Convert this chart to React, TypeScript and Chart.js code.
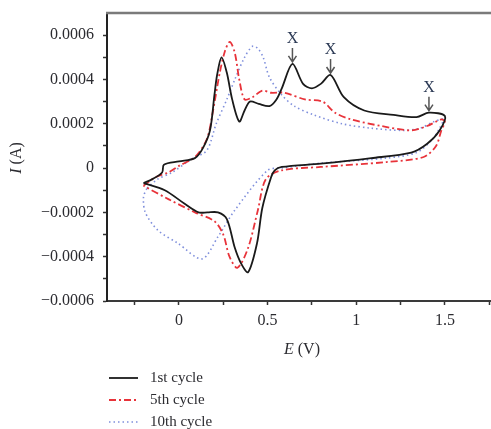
import React, { useEffect, useRef } from 'react';
import { Chart, registerables } from 'chart.js';

Chart.register(...registerables);

// ---- Data (E in V, I in A) ----
const seriesLabels = ['1st cycle', '5th cycle', '10th cycle'];

const cycle1E = [-0.2, -0.15, -0.095, -0.085, 0.0, 0.09, 0.135, 0.175, 0.2, 0.215, 0.24, 0.27, 0.3, 0.34, 0.37, 0.4, 0.45, 0.51, 0.55, 0.58, 0.64, 0.7, 0.75, 0.8, 0.855, 0.93, 1.045, 1.21, 1.34, 1.41, 1.5,
  1.47, 1.4, 1.31, 1.085, 0.8, 0.58, 0.54, 0.52, 0.47, 0.44, 0.39, 0.35, 0.315, 0.27, 0.22, 0.16, 0.11, 0.03, -0.08, -0.2];
const cycle1I = [-0.000068, -0.00005, -0.00002, 0.000015, 0.00003, 0.000045, 0.00009, 0.00017, 0.00033, 0.00042, 0.0005, 0.00043, 0.00031, 0.00021, 0.00026, 0.0003, 0.00029, 0.00028, 0.00031, 0.00036, 0.00047, 0.00038, 0.00036, 0.00038, 0.00042, 0.00032, 0.00026, 0.00024, 0.00023, 0.00025, 0.000235,
  0.00017, 0.00011, 0.00007, 0.000045, 0.00002, 0.000005, -0.00001, -0.00004, -0.00018, -0.00034, -0.00047, -0.00043, -0.00036, -0.00023, -0.0002, -0.0002, -0.0002, -0.00016, -0.0001, -0.000068];

const cycle5E = [-0.2, -0.13, -0.06, 0.0, 0.09, 0.157, 0.19, 0.23, 0.26, 0.287, 0.315, 0.34, 0.37, 0.415, 0.47, 0.52, 0.595, 0.71, 0.81, 0.88, 0.97, 1.14, 1.31, 1.4, 1.48, 1.5,
  1.48, 1.45, 1.38, 1.17, 0.8, 0.58, 0.49, 0.445, 0.39, 0.33, 0.285, 0.25, 0.2, 0.09, -0.06, -0.2];
const cycle5I = [-0.00008, -0.00004, -0.00002, 0.00001, 0.00005, 0.00013, 0.00025, 0.00043, 0.00053, 0.00057, 0.00052, 0.0004, 0.00031, 0.00032, 0.00035, 0.00034, 0.00034, 0.00031, 0.0003, 0.00025, 0.00022, 0.00019, 0.00017, 0.00019, 0.00022, 0.00021,
  0.00017, 0.0001, 0.00005, 0.000027, 0.000005, -0.00001, -0.00005, -0.00019, -0.00036, -0.00045, -0.0004, -0.0003, -0.00024, -0.0002, -0.00014, -0.00008];

const cycle10E = [-0.18, -0.12, -0.04, 0.07, 0.157, 0.21, 0.27, 0.315, 0.37, 0.415, 0.445, 0.475, 0.51, 0.58, 0.65, 0.76, 0.92, 1.085, 1.27, 1.36, 1.44, 1.49,
  1.47, 1.43, 1.34, 1.17, 0.8, 0.58, 0.5, 0.315, 0.22, 0.13, -0.005, -0.12, -0.19, -0.2, -0.18];
const cycle10I = [-0.00009, -0.00005, -0.00002, 0.00004, 0.00008, 0.0002, 0.00031, 0.0004, 0.0005, 0.00055, 0.00054, 0.0005, 0.00041, 0.00033, 0.00028, 0.00024, 0.0002, 0.00018, 0.00017, 0.00018, 0.00021, 0.00022,
  0.00018, 0.00013, 0.00007, 0.000045, 0.000022, 0.0, -0.00001, -0.00019, -0.00031, -0.00041, -0.00034, -0.00028, -0.0002, -0.00013, -0.00009];

// "X" markers (peaks)
const markerE = [0.64, 0.855, 1.41];
const markerI = [0.00047, 0.00042, 0.00025];
const markerText = 'X';

// Ticks
const xTickValues = [-0.25, 0, 0.25, 0.5, 0.75, 1, 1.25, 1.5, 1.75];
const xTickLabels = ['', '0', '', '0.5', '', '1', '', '1.5', ''];
const yTickValues = [-0.0006, -0.0005, -0.0004, -0.0003, -0.0002, -0.0001, 0, 0.0001, 0.0002, 0.0003, 0.0004, 0.0005, 0.0006];
const yTickLabels = ['\u22120.0006', '', '\u22120.0004', '', '\u22120.0002', '', '0', '', '0.0002', '', '0.0004', '', '0.0006'];

const xTitleMain = 'E';
const xTitleUnit = ' (V)';
const yTitleMain = 'I';
const yTitleUnit = ' (A)';

const SERIF = '"Liberation Serif", "Times New Roman", serif';
const TEXT_COLOR = '#2b2b30';

const zip = (xs: number[], ys: number[]) => xs.map((x, i) => ({ x, y: ys[i] }));

const colors = ['#1a1a1a', '#e8333a', '#7f8fdc'];
const dashes: number[][] = [[], [7, 3, 2, 3], [1.5, 3]];
const widths = [1.8, 1.8, 1.6];

export default function App() {
  const ref = useRef<HTMLCanvasElement | null>(null);

  useEffect(() => {
    document.body.style.margin = '0';
    const canvas = ref.current;
    if (!canvas) return;

    const decor = {
      id: 'decor',
      afterDraw(chart: any) {
        const ctx = chart.ctx as CanvasRenderingContext2D;
        const area = chart.chartArea;
        const xs = chart.scales.x;
        const ys = chart.scales.y;
        ctx.save();

        // top frame line
        ctx.strokeStyle = '#7a7a7a';
        ctx.lineWidth = 2.5;
        ctx.beginPath();
        ctx.moveTo(area.left - 1, area.top);
        ctx.lineTo(chart.width, area.top);
        ctx.stroke();

        // X markers with arrows
        for (let i = 0; i < markerE.length; i++) {
          const px = xs.getPixelForValue(markerE[i]);
          const py = ys.getPixelForValue(markerI[i]);
          const tip = py - 2;
          const tail = py - 16;
          ctx.strokeStyle = '#555';
          ctx.lineWidth = 1.5;
          ctx.beginPath();
          ctx.moveTo(px, tail);
          ctx.lineTo(px, tip);
          ctx.moveTo(px - 4, tip - 6);
          ctx.lineTo(px, tip);
          ctx.lineTo(px + 4, tip - 6);
          ctx.stroke();
          ctx.fillStyle = '#2c3a55';
          ctx.font = `16px ${SERIF}`;
          ctx.textAlign = 'center';
          ctx.textBaseline = 'middle';
          ctx.fillText(markerText, px, py - 25);
        }

        // axis titles
        ctx.fillStyle = TEXT_COLOR;
        ctx.textBaseline = 'middle';
        ctx.textAlign = 'left';
        const drawTitle = (main: string, unit: string) => {
          ctx.font = `italic 16px ${SERIF}`;
          const w1 = ctx.measureText(main).width;
          ctx.font = `16px ${SERIF}`;
          const w2 = ctx.measureText(unit).width;
          const total = w1 + w2;
          ctx.font = `italic 16px ${SERIF}`;
          ctx.fillText(main, -total / 2, 0);
          ctx.font = `16px ${SERIF}`;
          ctx.fillText(unit, -total / 2 + w1, 0);
        };
        ctx.save();
        ctx.translate((area.left + area.right) / 2 + 3, area.bottom + 49);
        drawTitle(xTitleMain, xTitleUnit);
        ctx.restore();
        ctx.save();
        ctx.translate(17, (area.top + area.bottom) / 2 + 1);
        ctx.rotate(-Math.PI / 2);
        drawTitle(yTitleMain, yTitleUnit);
        ctx.restore();

        // legend (in series order)
        const rowY = [area.bottom + 77, area.bottom + 99, area.bottom + 121];
        seriesLabels.forEach((label, i) => {
          const y = rowY[i];
          ctx.strokeStyle = colors[i];
          ctx.lineWidth = widths[i];
          ctx.setLineDash(dashes[i]);
          ctx.beginPath();
          ctx.moveTo(area.left + 2, y);
          ctx.lineTo(area.left + 31, y);
          ctx.stroke();
          ctx.setLineDash([]);
          ctx.fillStyle = TEXT_COLOR;
          ctx.font = `15px ${SERIF}`;
          ctx.textAlign = 'left';
          ctx.textBaseline = 'middle';
          ctx.fillText(label, area.left + 43, y);
        });

        ctx.restore();
      },
    };

    const base = [
      { label: seriesLabels[0], data: zip(cycle1E, cycle1I) },
      { label: seriesLabels[1], data: zip(cycle5E, cycle5I) },
      { label: seriesLabels[2], data: zip(cycle10E, cycle10I) },
    ].map((d, i) => ({
      ...d,
      showLine: true,
      pointRadius: 0,
      borderColor: colors[i],
      backgroundColor: colors[i],
      borderWidth: widths[i],
      borderDash: dashes[i],
      tension: 0.3,
      fill: false,
      order: i,
    }));

    const chart = new Chart(canvas, {
      type: 'scatter',
      data: { datasets: base as any },
      options: {
        responsive: false,
        animation: false,
        events: [],
        layout: { padding: { top: 13, left: 0, right: 0, bottom: 0 } },
        plugins: { legend: { display: false }, tooltip: { enabled: false } },
        scales: {
          x: {
            type: 'linear',
            min: -0.406,
            max: 1.76,
            afterFit: (s: any) => {
              s.height = 128;
              s.paddingLeft = 0;
              s.paddingRight = 0;
            },
            afterBuildTicks: (s: any) => { s.ticks = xTickValues.map((v) => ({ value: v })); },
            border: { display: true, color: '#3a3a3a', width: 2 },
            grid: { display: true, drawOnChartArea: false, drawTicks: true, tickLength: 4, tickColor: '#333', tickWidth: 1.5 },
            ticks: {
              color: TEXT_COLOR,
              font: { family: SERIF, size: 16 },
              padding: 6,
              maxRotation: 0,
              autoSkip: false,
              callback: (v: any) => {
                const i = xTickValues.findIndex((t) => Math.abs(t - Number(v)) < 1e-9);
                return i >= 0 ? xTickLabels[i] : '';
              },
            },
          },
          y: {
            type: 'linear',
            min: -0.0006,
            max: 0.0007,
            afterFit: (s: any) => {
              s.width = 107;
              s.paddingTop = 0;
              s.paddingBottom = 0;
            },
            afterBuildTicks: (s: any) => { s.ticks = yTickValues.map((v) => ({ value: v })); },
            border: { display: true, color: '#222', width: 2 },
            grid: { display: true, drawOnChartArea: false, drawTicks: true, tickLength: 4, tickColor: '#333', tickWidth: 1.5 },
            ticks: {
              color: TEXT_COLOR,
              font: { family: SERIF, size: 16 },
              padding: 9,
              autoSkip: false,
              callback: (v: any) => {
                const i = yTickValues.findIndex((t) => Math.abs(t - Number(v)) < 1e-10);
                return i >= 0 ? yTickLabels[i] : '';
              },
            },
          },
        },
      },
      plugins: [decor],
    });

    return () => chart.destroy();
  }, []);

  return <canvas ref={ref} width={491} height={429} style={{ display: 'block' }} />;
}
